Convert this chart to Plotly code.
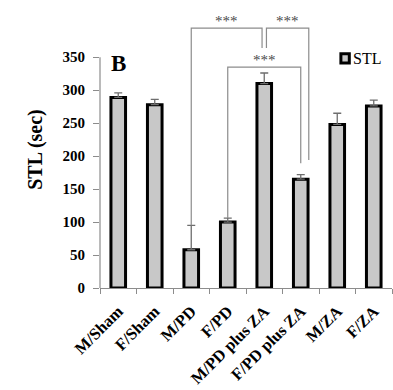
import plotly.graph_objects as go

categories = ["M/Sham", "F/Sham", "M/PD", "F/PD", "M/PD plus ZA", "F/PD plus ZA", "M/ZA", "F/ZA"]
stl_mean = [289, 278, 58, 100, 310, 165, 248, 276]
stl_err = [7, 8, 37, 6, 16, 7, 17, 9]
y_ticks = [0, 50, 100, 150, 200, 250, 300, 350]

# significance brackets: (x_left, y_left_bottom, x_right, y_right_bottom, y_top)
brackets = [
    (2, 95, 3.94, 364, 394),
    (4.06, 364, 5.22, 194, 394),
    (3, 106, 5, 189, 335),
]
stars = [(2.97, 405, "***"), (4.64, 405, "***"), (4.0, 345, "***")]

SERIF = "Liberation Serif, Times New Roman, serif"
GRAY_LINE = "#8c8c8c"

fig = go.Figure()
fig.add_trace(go.Bar(
    x=categories, y=stl_mean, name="STL", width=0.4,
    marker=dict(color="#c8c8c8", line=dict(color="black", width=3)),
    error_y=dict(type="data", array=stl_err, arrayminus=[0] * len(stl_err),
                 symmetric=False, color="#6e6e6e", thickness=1.3, width=4),
    showlegend=False,
))

shapes = []
# y axis line drawn only up to 350
shapes.append(dict(type="line", xref="paper", yref="y", x0=0, x1=0, y0=0, y1=350,
                   line=dict(color=GRAY_LINE, width=1.2)))
for xl, yl, xr, yr, yt in brackets:
    shapes.append(dict(type="path", xref="x", yref="y",
                       path=f"M {xl},{yl} L {xl},{yt} L {xr},{yt} L {xr},{yr}",
                       line=dict(color=GRAY_LINE, width=1.2)))
# custom legend box
shapes.append(dict(type="rect", xref="x", yref="y", x0=6.1, x1=6.33, y0=341, y1=355,
                   line=dict(color="black", width=3), fillcolor="#c8c8c8"))

annotations = []
for x, y, t in stars:
    annotations.append(dict(x=x, y=y, xref="x", yref="y", text=t, showarrow=False,
                            font=dict(family=SERIF, size=15, color="#4a4a4a")))
annotations.append(dict(x=0, y=341, xref="x", yref="y", text="<b>B</b>", showarrow=False,
                        font=dict(family=SERIF, size=23, color="black")))
annotations.append(dict(x=6.38, y=348, xref="x", yref="y", text="STL", showarrow=False,
                        xanchor="left", font=dict(family=SERIF, size=16, color="black")))

fig.update_layout(
    width=393, height=390,
    margin=dict(l=100, r=1, t=11, b=102),
    paper_bgcolor="white", plot_bgcolor="white",
    shapes=shapes, annotations=annotations,
    bargap=0.5,
    xaxis=dict(
        type="category", range=[-0.5, 7.5], tickangle=-45,
        ticks="outside", tickson="boundaries", ticklen=5, tickcolor=GRAY_LINE,
        ticklabelstandoff=6,
        showline=True, linecolor=GRAY_LINE, linewidth=1.2, showgrid=False,
        tickfont=dict(family=SERIF, size=16.5, color="black"),
        tickvals=categories, ticktext=[f"<b>{c}</b>" for c in categories],
    ),
    yaxis=dict(
        range=[0, 420], tickvals=y_ticks, ticktext=[f"<b>{v}</b>" for v in y_ticks],
        ticks="outside", ticklen=6, tickcolor=GRAY_LINE, ticklabelstandoff=5,
        showline=False, showgrid=False, zeroline=False,
        tickfont=dict(family=SERIF, size=15, color="black"),
        title=dict(text="<b>STL (sec)</b>", font=dict(family=SERIF, size=20, color="black"),
                   standoff=14),
    ),
)

fig.write_html("out.html")
